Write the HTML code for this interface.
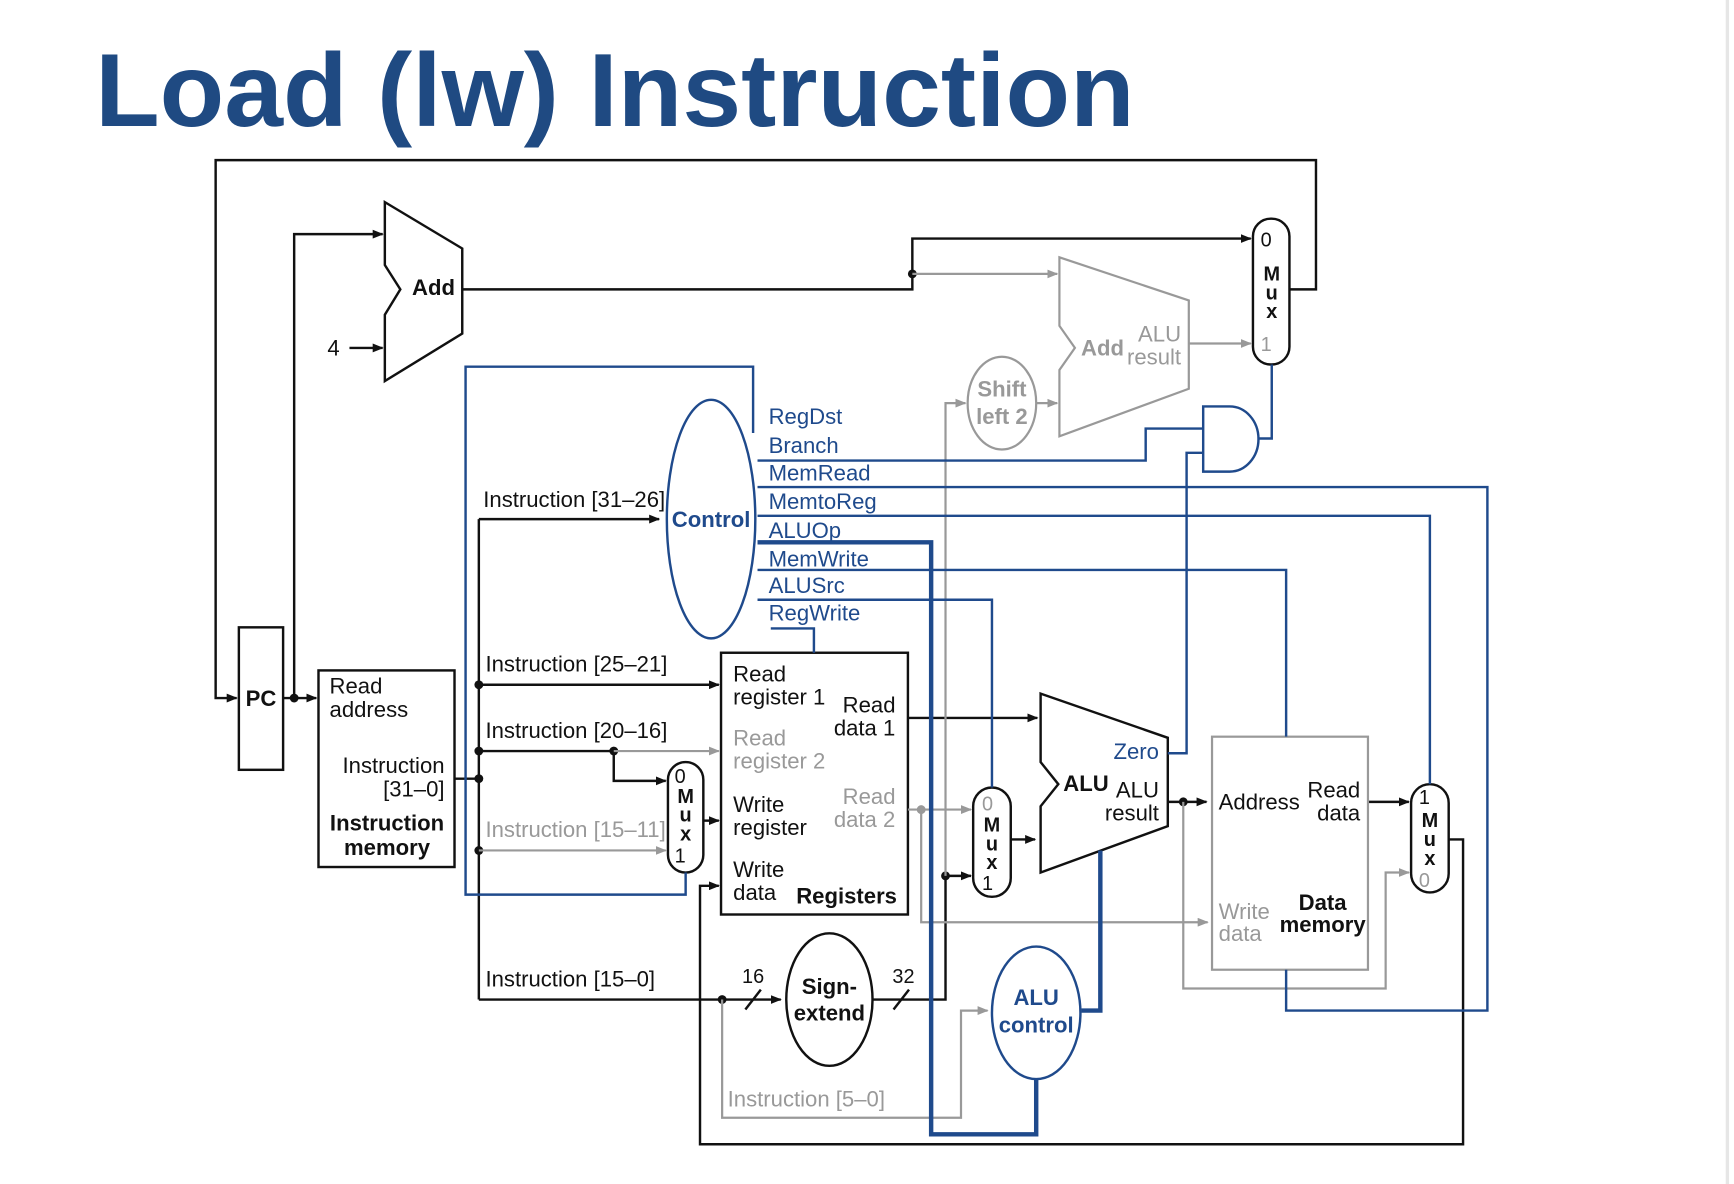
<!DOCTYPE html>
<html><head><meta charset="utf-8"><style>
html,body{margin:0;padding:0;background:#fff;}
svg{display:block;}
text{font-family:"Liberation Sans",Arial,sans-serif;}
</style></head><body>
<svg width="1734" height="1184" viewBox="0 0 1568 1072" preserveAspectRatio="none" xmlns="http://www.w3.org/2000/svg">
<defs>
<marker id="ak" markerWidth="10" markerHeight="8" refX="9" refY="4" orient="auto" markerUnits="userSpaceOnUse"><path d="M0,0 L10,4 L0,8 Z" fill="#111"/></marker>
<marker id="ag" markerWidth="10" markerHeight="8" refX="9" refY="4" orient="auto" markerUnits="userSpaceOnUse"><path d="M0,0 L10,4 L0,8 Z" fill="#999"/></marker>
</defs>
<rect x="0" y="0" width="1568" height="1072" fill="#fff"/>
<line x1="1562" y1="0" x2="1562" y2="1072" stroke="#e6e6e6" stroke-width="3"/>
<text x="86" y="114" font-size="94" font-weight="bold" fill="#1f4a82" textLength="940" lengthAdjust="spacingAndGlyphs">Load (lw) Instruction</text>

<g fill="none" stroke="#111" stroke-width="2.2">
<!-- top feedback -->
<polyline points="1166,262 1190,262 1190,145 195,145 195,632 214,632" marker-end="url(#ak)"/>
<rect x="216" y="568" width="40" height="129"/>
<polyline points="256,632 286,632" marker-end="url(#ak)"/>
<polyline points="266,632 266,212 346,212" marker-end="url(#ak)"/>
<polygon points="348,183 418,225 418,302 348,345 348,285 362,262 348,240"/>
<polyline points="316,315 346,315" marker-end="url(#ak)"/>
<polyline points="418,262 825,262 825,216 1131,216" marker-end="url(#ak)"/>
<rect x="1133" y="198" width="33" height="132" rx="16"/>
<!-- instruction memory -->
<rect x="288" y="607" width="123" height="178"/>
<polyline points="411,705 433,705"/>
<polyline points="433,470 433,905"/>
<polyline points="433,470 596,470" marker-end="url(#ak)"/>
<polyline points="433,620 650,620" marker-end="url(#ak)"/>
<polyline points="433,680 555,680"/>
<polyline points="555,680 555,707 602,707" marker-end="url(#ak)"/>
<polyline points="433,905 706,905" marker-end="url(#ak)"/>
<line x1="674" y1="914" x2="688" y2="896"/>
<rect x="604" y="690" width="32" height="100" rx="16"/>
<polyline points="636,743 650,743" marker-end="url(#ak)"/>
<rect x="652" y="591" width="169" height="237"/>
<polyline points="821,650 938,650" marker-end="url(#ak)"/>
<polyline points="1310,760 1323,760 1323,1036 633,1036 633,802 650,802" marker-end="url(#ak)"/>
<ellipse cx="750" cy="905" rx="39" ry="60"/>
<polyline points="789,905 855,905 855,793 878,793" marker-end="url(#ak)"/>
<line x1="808" y1="914" x2="822" y2="896"/>
<rect x="880" y="713" width="34" height="99" rx="17"/>
<polyline points="914,760 936,760" marker-end="url(#ak)"/>
<polygon points="941,628 1056,668 1056,748 941,790 941,730 957,710 941,690"/>
<polyline points="1056,726 1091,726" marker-end="url(#ak)"/>
<polyline points="1237,726 1274,726" marker-end="url(#ak)"/>
<rect x="1276" y="710" width="34" height="98" rx="17"/>
</g>

<g fill="#111">
<circle cx="266" cy="632" r="4"/><circle cx="825" cy="248" r="4"/>
<circle cx="433" cy="705" r="4"/><circle cx="433" cy="620" r="4"/><circle cx="433" cy="680" r="4"/><circle cx="433" cy="770" r="4"/>
<circle cx="555" cy="680" r="4"/><circle cx="653" cy="905" r="4"/><circle cx="855" cy="793" r="4"/><circle cx="1070" cy="726" r="4"/>
</g>

<g fill="none" stroke="#999" stroke-width="2">
<polyline points="825,248 956,248" marker-end="url(#ag)"/>
<polygon points="958,233 1075,272 1075,352 958,395 958,335 972,315 958,295"/>
<polyline points="1075,311 1131,311" marker-end="url(#ag)"/>
<ellipse cx="906" cy="365" rx="31" ry="42"/>
<polyline points="855,793 855,365 873,365" marker-end="url(#ag)"/>
<polyline points="937,365 956,365" marker-end="url(#ag)"/>
<polyline points="555,680 650,680" marker-end="url(#ag)"/>
<polyline points="433,770 602,770" marker-end="url(#ag)"/>
<polyline points="821,733 878,733" marker-end="url(#ag)"/>
<polyline points="833,733 833,835 1092,835" marker-end="url(#ag)"/>
<polyline points="653,905 653,1012 869,1012 869,915 893,915" marker-end="url(#ag)"/>
<polyline points="1070,726 1070,895 1253,895 1253,790 1274,790" marker-end="url(#ag)"/>
<rect x="1096" y="667" width="141" height="211"/>
</g>
<circle cx="833" cy="733" r="4" fill="#999"/>

<g fill="none" stroke="#1f4a8c" stroke-width="2.2">
<ellipse cx="643" cy="470" rx="40" ry="108"/>
<polyline points="681,392 681,332 421,332 421,810 620,810 620,790"/>
<polyline points="685,417 1036,417 1036,388 1088,388"/>
<path d="M1088,368 L1112,368 A26,29.5 0 0 1 1112,427 L1088,427 Z"/>
<polyline points="1138,397 1150,397 1150,330"/>
<polyline points="1056,682 1073,682 1073,410 1088,410"/>
<polyline points="685,441 1345,441 1345,915 1163,915 1163,878"/>
<polyline points="685,467 1293,467 1293,710"/>
<polyline points="685,516 1163,516 1163,667"/>
<polyline points="685,543 897,543 897,713"/>
<polyline points="697,569 736,569 736,591"/>
<ellipse cx="937" cy="917" rx="40" ry="60"/>
</g>
<g fill="none" stroke="#1f4a8c" stroke-width="4">
<polyline points="685,491 842,491 842,1027 937,1027 937,977"/>
<polyline points="978,915 995,915 995,770"/>
</g>

<g font-size="20" fill="#111">
<text x="236" y="639" text-anchor="middle" font-weight="bold">PC</text>
<text x="392" y="267" text-anchor="middle" font-weight="bold">Add</text>
<text x="296" y="322">4</text>
<text x="1140" y="223" font-size="18">0</text>
<text x="1150" y="254" text-anchor="middle" font-weight="bold" font-size="18">M</text>
<text x="1150" y="271" text-anchor="middle" font-weight="bold" font-size="18">u</text>
<text x="1150" y="288" text-anchor="middle" font-weight="bold" font-size="18">x</text>
<text x="298" y="628">Read</text><text x="298" y="649">address</text>
<text x="402" y="700" text-anchor="end">Instruction</text><text x="402" y="721" text-anchor="end">[31–0]</text>
<text x="350" y="752" text-anchor="middle" font-weight="bold">Instruction</text>
<text x="350" y="774" text-anchor="middle" font-weight="bold">memory</text>
<text x="437" y="459">Instruction [31–26]</text>
<text x="439" y="608">Instruction [25–21]</text>
<text x="439" y="668">Instruction [20–16]</text>
<text x="439" y="893">Instruction [15–0]</text>
<text x="610" y="709" font-size="18">0</text>
<text x="620" y="727" text-anchor="middle" font-weight="bold" font-size="18">M</text>
<text x="620" y="744" text-anchor="middle" font-weight="bold" font-size="18">u</text>
<text x="620" y="761" text-anchor="middle" font-weight="bold" font-size="18">x</text>
<text x="610" y="781" font-size="18">1</text>
<text x="663" y="617">Read</text><text x="663" y="638">register 1</text>
<text x="762" y="645">Read</text><text x="754" y="666">data 1</text>
<text x="663" y="735">Write</text><text x="663" y="756">register</text>
<text x="663" y="794">Write</text><text x="663" y="815">data</text>
<text x="720" y="818" font-weight="bold">Registers</text>
<text x="681" y="890" text-anchor="middle" font-size="18">16</text>
<text x="817" y="890" text-anchor="middle" font-size="18">32</text>
<text x="750" y="900" text-anchor="middle" font-weight="bold">Sign-</text>
<text x="750" y="924" text-anchor="middle" font-weight="bold">extend</text>
<text x="897" y="753" text-anchor="middle" font-weight="bold" font-size="18">M</text>
<text x="897" y="770" text-anchor="middle" font-weight="bold" font-size="18">u</text>
<text x="897" y="787" text-anchor="middle" font-weight="bold" font-size="18">x</text>
<text x="888" y="806" font-size="18">1</text>
<text x="982" y="716" text-anchor="middle" font-weight="bold">ALU</text>
<text x="1048" y="722" text-anchor="end">ALU</text><text x="1048" y="743" text-anchor="end">result</text>
<text x="1102" y="733">Address</text>
<text x="1230" y="722" text-anchor="end">Read</text><text x="1230" y="743" text-anchor="end">data</text>
<text x="1196" y="824" text-anchor="middle" font-weight="bold">Data</text>
<text x="1196" y="844" text-anchor="middle" font-weight="bold">memory</text>
<text x="1283" y="728" font-size="18">1</text>
<text x="1293" y="749" text-anchor="middle" font-weight="bold" font-size="18">M</text>
<text x="1293" y="766" text-anchor="middle" font-weight="bold" font-size="18">u</text>
<text x="1293" y="783" text-anchor="middle" font-weight="bold" font-size="18">x</text>
</g>

<g font-size="20" fill="#999">
<text x="1140" y="318" font-size="18">1</text>
<text x="997" y="322" text-anchor="middle" font-weight="bold">Add</text>
<text x="1068" y="309" text-anchor="end">ALU</text><text x="1068" y="330" text-anchor="end">result</text>
<text x="906" y="359" text-anchor="middle" font-weight="bold">Shift</text>
<text x="906" y="384" text-anchor="middle" font-weight="bold">left 2</text>
<text x="439" y="758">Instruction [15–11]</text>
<text x="663" y="675">Read</text><text x="663" y="696">register 2</text>
<text x="762" y="728">Read</text><text x="754" y="749">data 2</text>
<text x="888" y="734" font-size="18">0</text>
<text x="1102" y="832">Write</text><text x="1102" y="852">data</text>
<text x="1283" y="803" font-size="18">0</text>
<text x="658" y="1002">Instruction [5–0]</text>
</g>

<g font-size="20" fill="#1f4a8c">
<text x="643" y="477" text-anchor="middle" font-weight="bold">Control</text>
<text x="695" y="384">RegDst</text>
<text x="695" y="410">Branch</text>
<text x="695" y="435">MemRead</text>
<text x="695" y="461">MemtoReg</text>
<text x="695" y="487">ALUOp</text>
<text x="695" y="513">MemWrite</text>
<text x="695" y="537">ALUSrc</text>
<text x="695" y="562">RegWrite</text>
<text x="1048" y="687" text-anchor="end">Zero</text>
<text x="937" y="910" text-anchor="middle" font-weight="bold">ALU</text>
<text x="937" y="935" text-anchor="middle" font-weight="bold">control</text>
</g>
</svg>
</body></html>
